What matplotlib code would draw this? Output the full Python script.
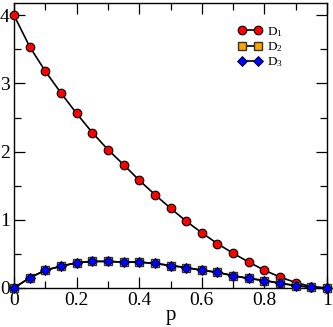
import matplotlib
matplotlib.use("Agg")
import matplotlib.pyplot as plt
import numpy as np
from matplotlib.ticker import MultipleLocator

p = [0.0, 0.05, 0.1, 0.15, 0.2, 0.25, 0.3, 0.35, 0.4, 0.45, 0.5,
     0.55, 0.6, 0.65, 0.7, 0.75, 0.8, 0.85, 0.9, 0.95, 1.0]
D1 = [4.0, 3.54, 3.18, 2.86, 2.56, 2.28, 2.03, 1.81, 1.58, 1.37, 1.17,
      0.98, 0.81, 0.65, 0.51, 0.38, 0.26, 0.16, 0.08, 0.02, 0.0]
D2 = [0.0, 0.15, 0.26, 0.32, 0.37, 0.39, 0.39, 0.38, 0.38, 0.36, 0.33,
      0.30, 0.26, 0.23, 0.18, 0.14, 0.11, 0.07, 0.035, 0.01, 0.0]
D3 = [0.0, 0.15, 0.26, 0.32, 0.37, 0.39, 0.39, 0.38, 0.38, 0.36, 0.33,
      0.30, 0.26, 0.23, 0.18, 0.14, 0.11, 0.07, 0.035, 0.01, 0.0]
labels = ["D$_1$", "D$_2$", "D$_3$"]

plt.rcParams['font.family'] = ['Liberation Serif', 'DejaVu Serif']
plt.rcParams['mathtext.fontset'] = 'custom'
plt.rcParams['mathtext.rm'] = 'Liberation Serif'
plt.rcParams['mathtext.it'] = 'Liberation Serif:italic'

fig = plt.figure(figsize=(3.33, 3.27), dpi=100)
ax = fig.add_axes([14/333, 1 - 288/327, (327-14)/333, (288-3)/327])

ax.plot(p, D1, '-', color='black', lw=1.2, marker='o', ms=6.2,
        mfc='#ff0000', mec='black', mew=0.8, label=labels[0], clip_on=False, zorder=3)
ax.plot(p, D2, '-', color='black', lw=1.2, marker='s', ms=6.2,
        mfc='#ffa500', mec='#333333', mew=1.0, label=labels[1], clip_on=False, zorder=4)
ax.plot(p, D3, '-', color='black', lw=1.2, marker='D', ms=4.6,
        mfc='#0000ff', mec='black', mew=0.6, label=labels[2], clip_on=False, zorder=5)

ax.set_xlim(0, 1)
ax.set_ylim(0, 4.18)
ax.xaxis.set_minor_locator(MultipleLocator(0.1))
ax.yaxis.set_minor_locator(MultipleLocator(0.5))
ax.set_xticks([0, 0.2, 0.4, 0.6, 0.8, 1.0])
ax.set_xticklabels(["0", "0.2", "0.4", "0.6", "0.8", "1"])
ax.set_yticks([0, 1, 2, 3, 4])
ax.set_yticklabels(["0", "1", "2", "3", "4"])
ax.tick_params(which='both', direction='in', top=True, right=True,
               labelsize=14)
ax.tick_params(axis='x', pad=3)
ax.tick_params(axis='y', pad=3)
ax.tick_params(which='major', length=8, width=0.9)
ax.tick_params(which='minor', length=5, width=0.9)
for s in ax.spines.values():
    s.set_linewidth(1.0)
ax.set_xlabel("p", fontsize=15, labelpad=-2)

leg = fig.legend(handles=ax.get_lines(), labels=labels, loc='upper left',
                 bbox_to_anchor=(238/333, 1 - 25/327), frameon=False,
                 fontsize=9.5, numpoints=2, handlelength=1.8, handletextpad=0.4,
                 labelspacing=0.1, borderpad=0, borderaxespad=0)

fig.savefig("out.png", dpi=100)
